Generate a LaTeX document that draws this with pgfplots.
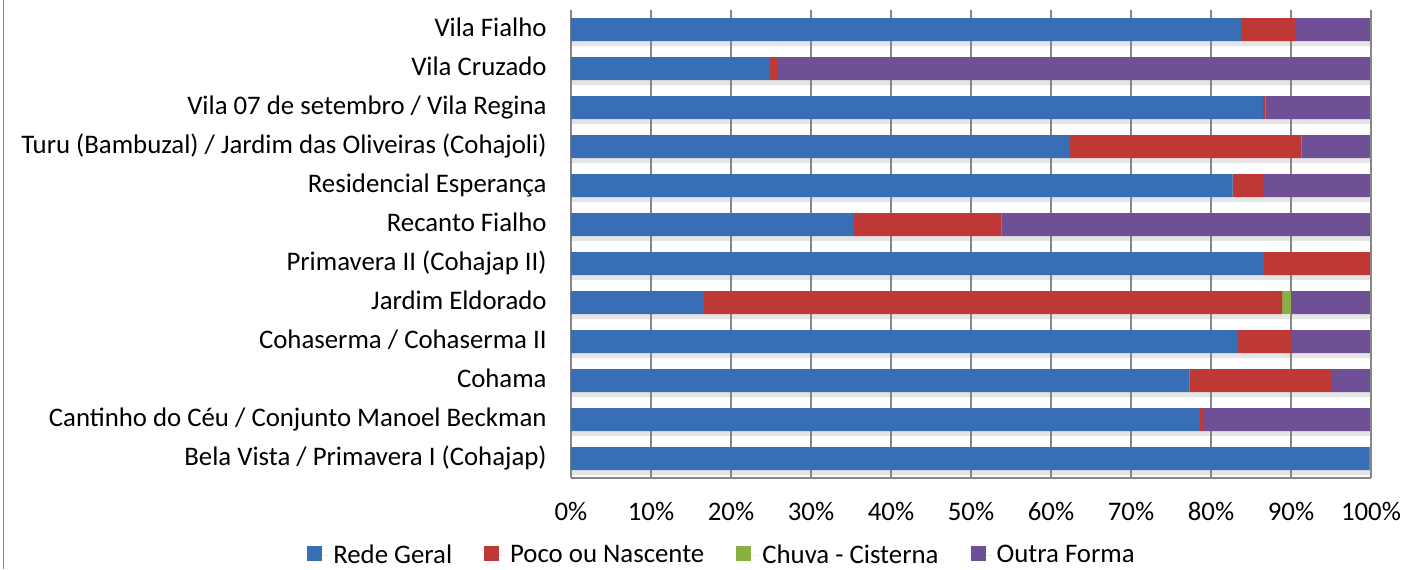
\documentclass[border=0pt]{standalone}
\usepackage{pgfplots}
\pgfplotsset{compat=1.18}
\usepackage{pgfplotstable}
\usepackage{fontspec}
\setmainfont{Carlito}

\definecolor{cblue}{HTML}{376EB6}
\definecolor{cred}{HTML}{BE3835}
\definecolor{cgreen}{HTML}{8AB043}
\definecolor{cpurp}{HTML}{6F4F96}
\definecolor{gridgray}{HTML}{868686}

% percentages, bottom row first (Bela Vista) up to Vila Fialho
\pgfplotstableread{
idx rede  poco  chuva outra
0   99.8  0.2   0     0
1   78.6  0.4   0     21.0
2   77.3  17.7  0     5.0
3   83.4  6.6   0     10.0
4   16.6  72.3  1.1   10.0
5   86.6  13.4  0     0
6   35.4  18.4  0     46.2
7   82.7  3.8   0     13.5
8   62.4  28.9  0     8.7
9   86.5  0.3   0     13.2
10  24.9  1.0   0     74.1
11  83.75 6.75  0     9.5
}\datatab

\pgfplotsset{base/.style={
  at={(0,0)}, anchor=south west,
  scale only axis, width=400pt, height=234pt,
  bar width=11.5pt,
  xmin=0, xmax=100, ymin=-0.5, ymax=11.5,
}}

\begin{document}
\begin{tikzpicture}
\path[use as bounding box] (-285.5pt,-45.5pt) rectangle (417pt,239pt);
\draw[gridgray, line width=0.75pt] (-283.75pt,-45.5pt) -- (-283.75pt,239pt);
% soft shadow under the bars
\begin{axis}[base, xbar, hide axis]
\addplot[draw=none, fill=black, opacity=0.10, bar shift=-2.5pt]
  table[x expr=\thisrow{rede}+\thisrow{poco}+\thisrow{chuva}+\thisrow{outra}, y=idx] {\datatab};
\end{axis}
\begin{axis}[base,
  xbar stacked,
  xtick={0,10,...,100},
  xticklabels={0\%,10\%,20\%,30\%,40\%,50\%,60\%,70\%,80\%,90\%,100\%},
  ytick={0,...,11},
  yticklabels={Bela Vista / Primavera I (Cohajap),
    Cantinho do Céu / Conjunto Manoel Beckman,
    Cohama,
    Cohaserma / Cohaserma II,
    Jardim Eldorado,
    Primavera II (Cohajap II),
    Recanto Fialho ,
    Residencial Esperança,
    Turu (Bambuzal) / Jardim das Oliveiras (Cohajoli),
    Vila 07 de setembro / Vila Regina,
    Vila Cruzado,
    Vila Fialho},
  tick label style={font=\fontsize{13.4}{16}\selectfont},
  xticklabel style={anchor=base, yshift=-21pt, inner sep=0pt},
  yticklabel style={anchor=base east, xshift=-12pt, yshift=-3.5pt, inner sep=0pt},
  major tick length=0pt,
  xmajorgrids, grid style={gridgray, line width=0.75pt},
  axis line style={gridgray, line width=0.75pt},
  axis x line*=bottom, axis y line*=left,
  legend columns=4,
  legend style={draw=none, fill=none, at={(0.19,-0.165)}, anchor=center,
    font=\fontsize{13.4}{16}\selectfont,
    /tikz/every even column/.append style={column sep=14pt}},
  legend image code/.code={
    \path (0pt,0pt) -- (11pt,0pt);
    \fill[#1] (0pt,-2.8pt) rectangle (7.5pt,4.7pt);},
]
\addplot[draw=none, fill=cblue] table[x=rede, y=idx] {\datatab};
\addplot[draw=none, fill=cred] table[x=poco, y=idx] {\datatab};
\addplot[draw=none, fill=cgreen] table[x=chuva, y=idx] {\datatab};
\addplot[draw=none, fill=cpurp] table[x=outra, y=idx] {\datatab};
\legend{Rede Geral, Poco ou Nascente, Chuva - Cisterna, Outra Forma}
\end{axis}
\draw[gridgray, line width=0.75pt] (400pt,0pt) -- (400pt,234pt);
\end{tikzpicture}
\end{document}
